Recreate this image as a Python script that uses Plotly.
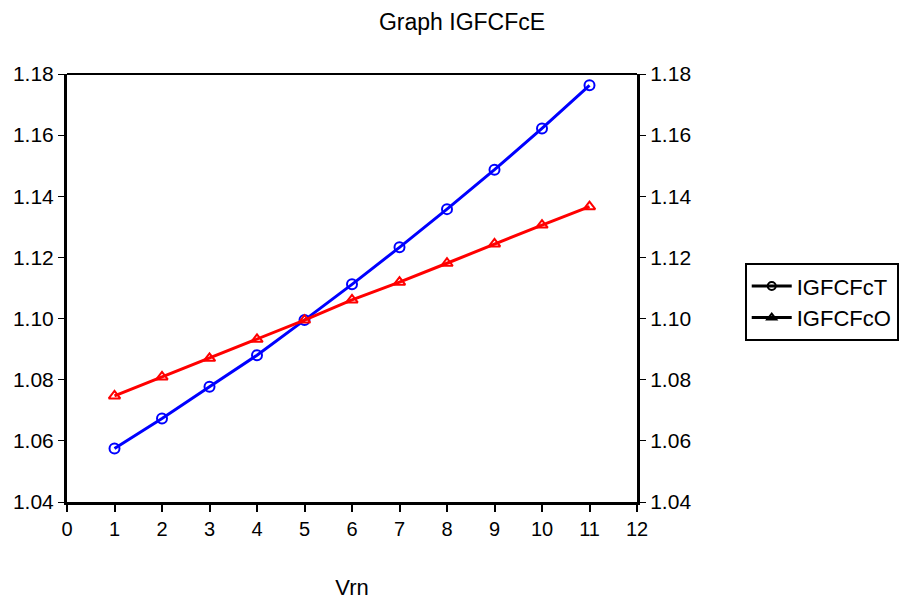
import plotly.graph_objects as go

x_vals = [1, 2, 3, 4, 5, 6, 7, 8, 9, 10, 11]
igfcfct = [1.0575, 1.0673, 1.0777, 1.0880, 1.0995, 1.1112, 1.1233, 1.1358, 1.1487, 1.1622, 1.1763]
igfcfco = [1.0747, 1.0809, 1.0870, 1.0932, 1.0995, 1.1061, 1.1119, 1.1181, 1.1244, 1.1306, 1.1366]
y_ticks = [1.04, 1.06, 1.08, 1.10, 1.12, 1.14, 1.16, 1.18]
x_ticks = list(range(0, 13))

FONT = "Liberation Sans, Arial, sans-serif"

fig = go.Figure()
fig.add_trace(go.Scatter(x=x_vals, y=igfcfct, mode="lines+markers", showlegend=False,
                         line=dict(color="#0000ff", width=3),
                         marker=dict(symbol="circle-open", size=10, color="#0000ff", line=dict(width=2))))
fig.add_trace(go.Scatter(x=x_vals, y=igfcfco, mode="lines+markers", showlegend=False,
                         line=dict(color="#ff0000", width=3),
                         marker=dict(symbol="triangle-up-open", size=10, color="#ff0000", line=dict(width=2))))
# legend entries (black, as in reference)
fig.add_trace(go.Scatter(x=[None], y=[None], mode="lines+markers", name="IGFCFcT",
                         line=dict(color="black", width=3),
                         marker=dict(symbol="circle-open", size=8, color="black", line=dict(width=2))))
fig.add_trace(go.Scatter(x=[None], y=[None], mode="lines+markers", name="IGFCFcO",
                         line=dict(color="black", width=3),
                         marker=dict(symbol="triangle-up-open", size=8, color="black", line=dict(width=2))))
# invisible trace on right axis
fig.add_trace(go.Scatter(x=[None], y=[None], yaxis="y2", showlegend=False, hoverinfo="skip"))

W = 902
fig.update_layout(
    width=W, height=592,
    paper_bgcolor="white", plot_bgcolor="white",
    margin=dict(l=59, r=W - 59 - 570, t=66, b=98, autoexpand=False),
    font=dict(family=FONT, size=21, color="black"),
    title=dict(text="Graph IGFCFcE", x=454 / W, xanchor="center", y=0.977, yanchor="middle",
               font=dict(family=FONT, size=23, color="black")),
    xaxis=dict(range=[0, 12], tickvals=x_ticks, ticks="outside", ticklen=7, tickwidth=2,
               tickcolor="black", showline=True, linecolor="black", linewidth=3,
               mirror=False, showgrid=False, zeroline=False, automargin=False,
               tickfont=dict(family=FONT, size=20),
               title=dict(text="Vrn", font=dict(family=FONT, size=22), standoff=48)),
    yaxis=dict(range=[1.04, 1.18], tickvals=y_ticks, tickformat=".2f", ticks="outside",
               ticklen=6, tickwidth=1, tickcolor="black", showline=True, linecolor="black",
               linewidth=3, showgrid=False, zeroline=False, automargin=False,
               tickfont=dict(family=FONT, size=21)),
    yaxis2=dict(range=[1.04, 1.18], tickvals=y_ticks, tickformat=".2f", overlaying="y",
                side="right", ticks="outside", ticklen=6, tickwidth=1, tickcolor="black",
                showline=True, linecolor="black", linewidth=3, showgrid=False, zeroline=False,
                automargin=False, tickfont=dict(family=FONT, size=21)),
    legend=dict(x=1.189, y=0.558, xanchor="left", yanchor="top",
                bordercolor="black", borderwidth=2, bgcolor="white",
                font=dict(family=FONT, size=22, color="black"),
                tracegroupgap=0, itemwidth=40),
    shapes=[dict(type="line", xref="paper", yref="paper", x0=0, x1=1, y0=1, y1=1,
                 line=dict(color="black", width=2))],
)

fig.write_html("out.html")
